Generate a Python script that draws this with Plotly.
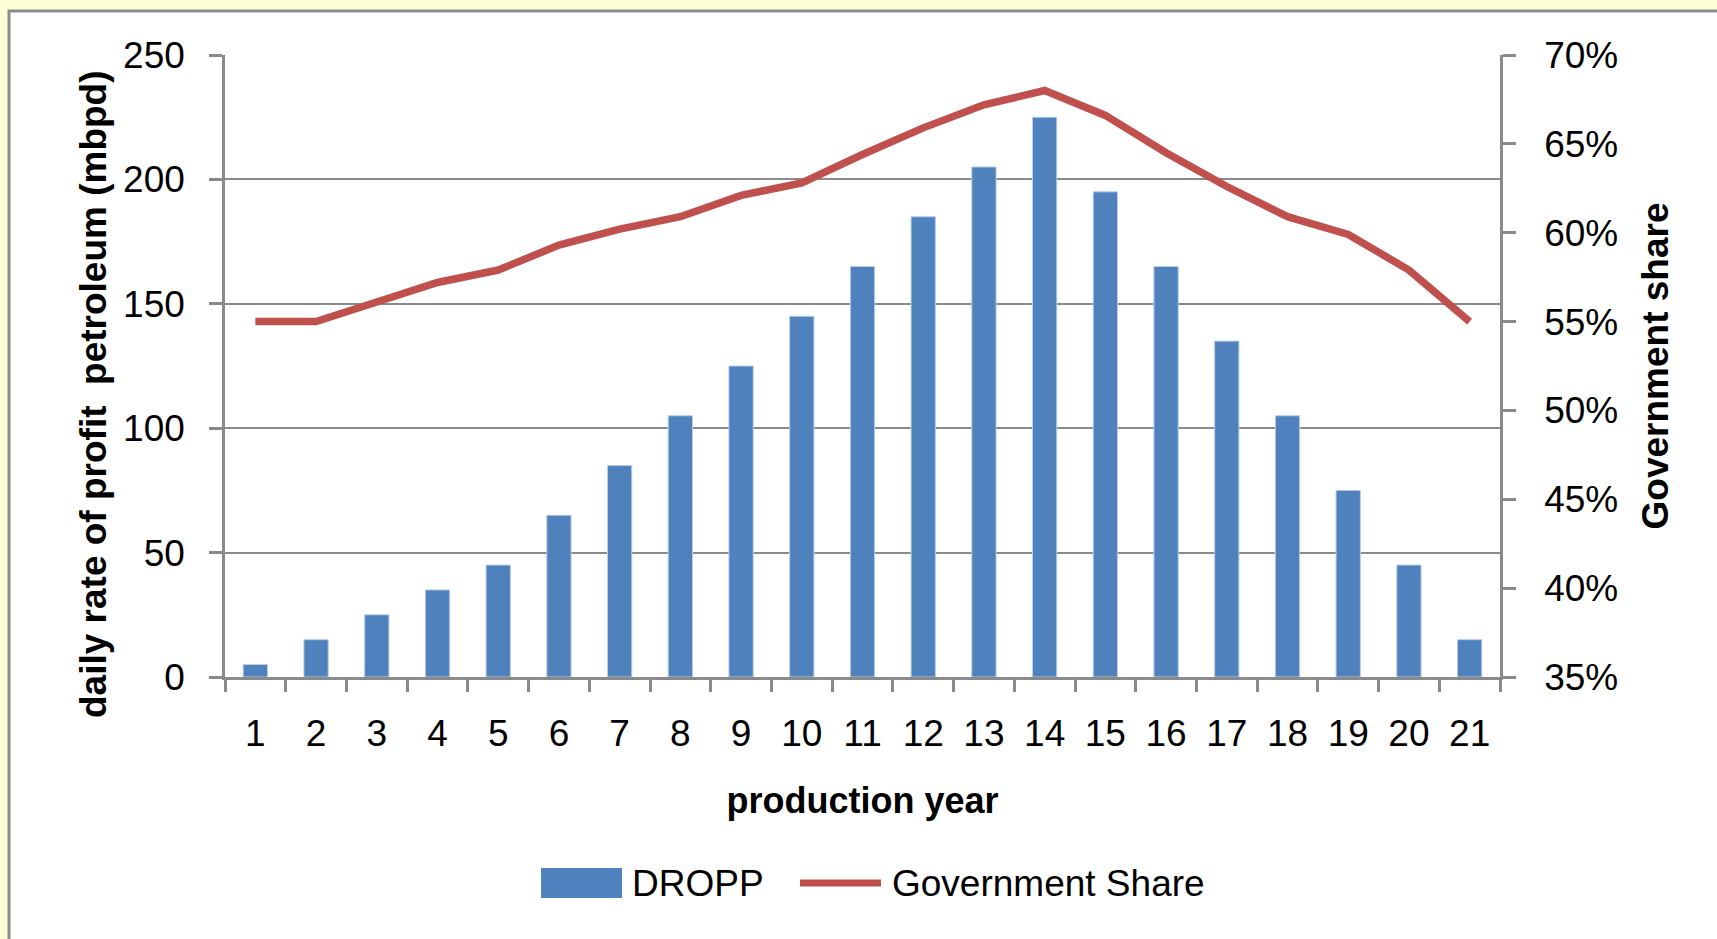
import plotly.graph_objects as go

years = [str(i) for i in range(1, 22)]
dropp = [5, 15, 25, 35, 45, 65, 85, 105, 125, 145, 165, 185, 205, 225, 195, 165, 135, 105, 75, 45, 15]
gov_share = [0.550, 0.550, 0.561, 0.572, 0.579, 0.593, 0.602, 0.609, 0.621, 0.628, 0.644, 0.659, 0.672, 0.680, 0.666, 0.645, 0.626, 0.609, 0.599, 0.579, 0.550]

left_ticks = [0, 50, 100, 150, 200, 250]
right_ticks = [0.35, 0.40, 0.45, 0.50, 0.55, 0.60, 0.65, 0.70]

W, H = 1717, 939
L, R, T, B = 225, 217, 55, 262
PW, PH = W - L - R, H - T - B

def px(x):
    return (x - L) / PW

def py(y):
    return (H - B - y) / PH

FONT = "Liberation Sans"
GRID = "#8a8a8a"

fig = go.Figure()
fig.add_trace(go.Bar(
    x=years, y=dropp, name="DROPP", yaxis="y",
    marker=dict(color="#4F81BD", line=dict(color="#B9CDE5", width=1)),
    showlegend=False,
))
fig.add_trace(go.Scatter(
    x=years, y=gov_share, name="Government Share", yaxis="y2", mode="lines",
    line=dict(color="#C0504D", width=7.5),
    showlegend=False,
))

shapes = [
    dict(type="rect", xref="paper", yref="paper", x0=px(9), x1=px(1740), y0=py(11), y1=py(960),
         fillcolor="white", line=dict(color="#8c8c8c", width=3), layer="below"),
    dict(type="rect", xref="paper", yref="paper", x0=px(541), x1=px(622), y0=py(898), y1=py(868),
         fillcolor="#4F81BD", line=dict(width=0)),
    dict(type="line", xref="paper", yref="paper", x0=px(800), x1=px(881), y0=py(883), y1=py(883),
         line=dict(color="#C0504D", width=7)),
]
annotations = [
    dict(text="<b>daily rate of profit  petroleum (mbpd)</b>", xref="paper", yref="paper",
         x=px(93), y=py(394), xanchor="center", yanchor="middle", textangle=-90,
         showarrow=False, font=dict(family=FONT, size=37, color="black")),
    dict(text="DROPP", xref="paper", yref="paper", x=px(630), y=py(883), xanchor="left", yanchor="middle",
         showarrow=False, font=dict(family=FONT, size=37, color="black")),
    dict(text="Government Share", xref="paper", yref="paper", x=px(890), y=py(883), xanchor="left", yanchor="middle",
         showarrow=False, font=dict(family=FONT, size=37, color="black")),
]

fig.update_layout(
    width=W, height=H,
    margin=dict(l=L, r=R, t=T, b=B, autoexpand=False),
    paper_bgcolor="#FFFFD6",
    plot_bgcolor="rgba(0,0,0,0)",
    font=dict(family=FONT, size=37, color="black"),
    bargap=0.6,
    showlegend=False,
    shapes=shapes,
    annotations=annotations,
    xaxis=dict(
        type="category", showline=True, linecolor=GRID, linewidth=2.5,
        ticks="outside", tickson="boundaries", ticklen=12, tickwidth=2.5, tickcolor=GRID,
        showgrid=False, ticklabelstandoff=22,
        title=dict(text="<b>production year</b>", font=dict(family=FONT, size=36), standoff=35),
        tickfont=dict(family=FONT, size=37),
    ),
    yaxis=dict(
        range=[0, 250], tickvals=left_ticks, showline=True, linecolor=GRID, linewidth=2.5,
        ticks="outside", ticklen=13, tickwidth=2.5, tickcolor=GRID,
        showgrid=True, gridcolor=GRID, gridwidth=2, zeroline=False, ticklabelstandoff=17,
        tickfont=dict(family=FONT, size=37),
    ),
    yaxis2=dict(
        range=[0.35, 0.70], tickvals=right_ticks, tickformat=".0%", overlaying="y", side="right",
        showline=True, linecolor=GRID, linewidth=2.5,
        ticks="outside", ticklen=13, tickwidth=2.5, tickcolor=GRID,
        showgrid=False, zeroline=False, ticklabelstandoff=21,
        title=dict(text="<b>Government share</b>", font=dict(family=FONT, size=37), standoff=25),
        tickfont=dict(family=FONT, size=37),
    ),
)

fig.write_html("out.html", config={"displayModeBar": False},
               post_script="document.body.style.margin='0';document.body.style.overflow='hidden';")
